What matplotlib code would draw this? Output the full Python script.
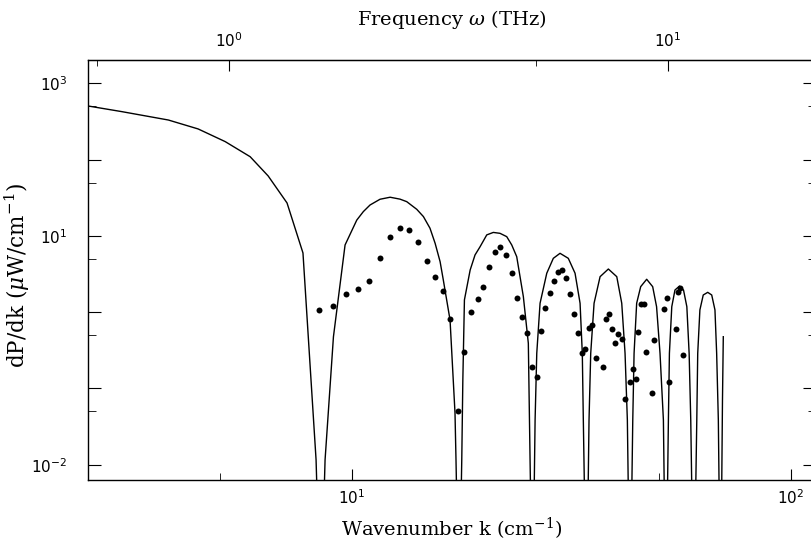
import matplotlib
matplotlib.use("Agg")
import matplotlib.pyplot as plt
from matplotlib.ticker import FixedLocator, FixedFormatter, NullFormatter

plt.rcParams['mathtext.fontset'] = 'dejavuserif'

# theory curve, dP/dk vs wavenumber (cm^-1)
k_curve = [2.503, 2.988, 3.815, 4.46, 5.14, 5.86, 6.44, 7.11, 7.73, 8.28, 8.48,
           8.68, 9.07, 9.64, 10.25, 10.61, 10.99, 11.58, 12.21, 12.86, 13.32, 14.04, 14.54,
           15.05, 15.46, 15.87, 16.14, 16.72, 17.16, 17.25, 17.52,
           17.78, 17.88, 18.03, 18.58, 19.06, 19.57, 20.27, 20.98, 21.73, 22.51, 23.11, 23.72,
           24.56, 25.21, 25.44, 25.77,
           26.12, 26.35, 26.81, 27.77, 28.74, 29.77, 31.09, 32.21, 33.07, 33.46, 33.64, 34.2,
           34.66, 34.97, 35.59, 36.73, 38.36, 40.09, 41.15, 41.87, 42.38, 42.98,
           43.6, 43.9, 44.5, 45.45, 46.9, 48.4, 49.4, 50.3, 51.2, 51.86,
           52.56, 52.84, 53.5, 54.4, 55.7, 56.9, 57.9, 58.6, 59.1, 60.03,
           61.0, 61.3, 62.0, 63.1, 64.6, 65.97, 67.1, 67.7, 68.3, 69.1,
           69.8, 70.1]
p_curve = [504, 425, 330, 252, 172, 109, 61, 27, 5.97, 0.0116, 1e-4,
           0.0116, 0.477, 7.6, 16.1, 20.8, 25.4, 30.2, 32.1, 30.3, 28.1, 22.3, 17.9,
           12.6, 8.0, 4.59, 2.64, 0.79, 0.0478, 0.0116, 1e-4,
           0.0116, 0.129, 1.45, 3.57, 5.62, 7.2, 10.3, 11.1, 10.8, 9.77, 7.6, 5.34,
           1.60, 0.391, 0.0116, 1e-4,
           0.0386, 0.289, 1.31, 3.24, 5.08, 5.91, 5.08, 3.24, 1.31, 0.289, 0.0386, 1e-4,
           0.0386, 0.289, 1.31, 2.92, 3.68, 2.92, 1.31, 0.289, 0.0386, 1e-4,
           0.0386, 0.289, 1.31, 2.16, 2.70, 2.16, 1.18, 0.289, 0.0386, 1e-4,
           0.0386, 0.289, 1.18, 1.95, 2.20, 1.95, 1.18, 0.289, 0.0386, 1e-4,
           0.0386, 0.289, 1.07, 1.68, 1.82, 1.68, 1.07, 0.289, 0.0386, 1e-4,
           0.0707, 0.477]

# measured points
k_data = [8.41, 9.04, 9.69, 10.32, 10.95, 11.58, 12.22, 12.85, 13.50, 14.14, 14.80, 15.43,
          16.09, 16.72, 17.46, 17.96, 18.64, 19.33, 19.91, 20.55, 21.17, 21.77, 22.47, 23.14,
          23.79, 24.43, 25.04, 25.75, 26.35, 26.91, 27.56, 28.20, 28.89, 29.51, 30.13, 30.77,
          31.43, 32.04, 32.77, 33.47, 34.0, 34.67, 35.27, 36.02, 37.31, 37.84, 38.50, 39.11,
          39.79, 40.42, 41.21, 41.87, 42.98, 43.73, 44.42, 44.89, 45.52, 46.25, 46.81, 48.31,
          48.74, 51.37, 52.11, 52.82, 54.63, 55.29, 55.87, 56.66]
p_data = [1.07, 1.22, 1.75, 2.0, 2.59, 5.18, 9.59, 12.8, 11.9, 8.24, 4.69, 2.87,
          1.90, 0.807, 0.0512, 0.298, 1.02, 1.49, 2.16, 3.91, 6.21, 7.09, 5.67, 3.24,
          1.52, 0.857, 0.538, 0.191, 0.143, 0.567, 1.15, 1.76, 2.54, 3.40, 3.57, 2.83,
          1.73, 0.938, 0.528, 0.294, 0.327, 0.615, 0.673, 0.249, 0.191, 0.815, 0.955, 0.597,
          0.395, 0.523, 0.446, 0.0728, 0.122, 0.180, 0.132, 0.555, 1.29, 1.27, 0.301, 0.0873,
          0.428, 1.10, 1.55, 0.120, 0.602, 1.84, 2.09, 0.277]

# THz of omega per cm^-1
w_per_k = 1 / 5.24

x_major = [10, 100]
x_major_labels = [r'$\mathsf{10^{1}}$', r'$\mathsf{10^{2}}$']
x_minor = [5, 50]
y_major = [1e-2, 1e-1, 1e0, 1e1, 1e2, 1e3]
y_major_labels = [r'$\mathsf{10^{-2}}$', '', '', r'$\mathsf{10^{1}}$', '', r'$\mathsf{10^{3}}$']
y_minor = [5e-2, 5e-1, 5e0, 5e1, 5e2]
w_major = [1, 10]
w_major_labels = [r'$\mathsf{10^{0}}$', r'$\mathsf{10^{1}}$']
w_minor = [0.5, 5]

fig = plt.figure(figsize=(8.11, 5.44), dpi=100)
ax = fig.add_axes([88 / 811, 1 - 480 / 544, (816 - 88) / 811, 420 / 544])
ax.set_xscale('log')
ax.set_yscale('log')
ax.set_xlim(2.503, 114)
ax.set_ylim(0.00632, 2018)

ax.plot(k_curve, p_curve, color='black', lw=1.0)
ax.plot(k_data, p_data, 'o', color='black', ms=4.3, mec='none')

ax.xaxis.set_major_locator(FixedLocator(x_major))
ax.xaxis.set_major_formatter(FixedFormatter(x_major_labels))
ax.xaxis.set_minor_locator(FixedLocator(x_minor))
ax.xaxis.set_minor_formatter(NullFormatter())
ax.yaxis.set_major_locator(FixedLocator(y_major))
ax.yaxis.set_major_formatter(FixedFormatter(y_major_labels))
ax.yaxis.set_minor_locator(FixedLocator(y_minor))
ax.yaxis.set_minor_formatter(NullFormatter())

ax.tick_params(axis='x', which='both', direction='in', top=False, labelsize=11, pad=6)
ax.tick_params(axis='x', which='major', length=8)
ax.tick_params(axis='x', which='minor', length=5)
ax.tick_params(axis='y', which='both', direction='in', right=True, labelsize=11, pad=15)
ax.tick_params(axis='y', which='major', length=9.5)
ax.tick_params(axis='y', which='minor', length=5.5)

secax = ax.secondary_xaxis('top', functions=(lambda k: k * w_per_k, lambda w: w / w_per_k))
secax.xaxis.set_major_locator(FixedLocator(w_major))
secax.xaxis.set_major_formatter(FixedFormatter(w_major_labels))
secax.xaxis.set_minor_locator(FixedLocator(w_minor))
secax.xaxis.set_minor_formatter(NullFormatter())
secax.tick_params(which='both', direction='in', labelsize=11, pad=7)
secax.tick_params(which='major', length=8)
secax.tick_params(which='minor', length=4.5)

for s in ax.spines.values():
    s.set_linewidth(1.0)

ax.set_xlabel('Wavenumber k (cm$^{-1}$)', fontsize=14, family='DejaVu Serif')
ax.xaxis.set_label_coords(0.499, -0.085)
ax.set_ylabel(r'dP/dk ($\mu$W/cm$^{-1}$)', fontsize=15.5, family='DejaVu Serif')
ax.yaxis.set_label_coords(-0.077, 0.488)
secax.set_xlabel(r'Frequency $\omega$ (THz)', fontsize=14, family='DejaVu Serif', labelpad=5)

fig.savefig('out.png', dpi=100)
